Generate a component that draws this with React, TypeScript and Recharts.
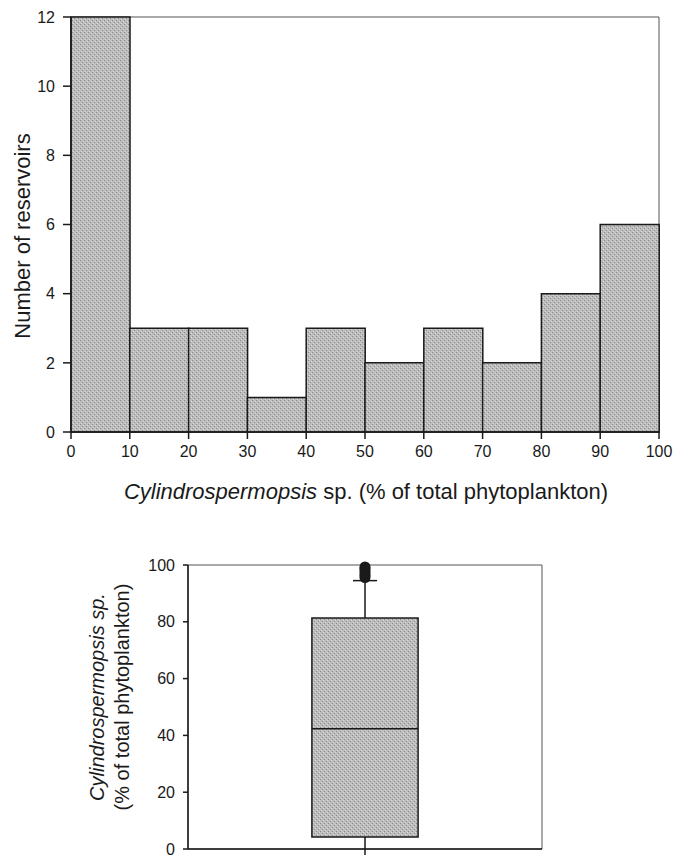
import React from 'react'
import {
  ComposedChart,
  Bar,
  XAxis,
  YAxis,
  Scatter,
  ReferenceArea,
  ReferenceLine,
} from 'recharts'

// histogram: % Cylindrospermopsis per reservoir, 10% bins
const binStarts = [0, 10, 20, 30, 40, 50, 60, 70, 80, 90]
const binWidth = 10
const counts = [12, 3, 3, 1, 3, 2, 3, 2, 4, 6]
const histXTicks = [0, 10, 20, 30, 40, 50, 60, 70, 80, 90, 100]
const histYTicks = [0, 2, 4, 6, 8, 10, 12]

// box plot summary
const boxLow = 0
const boxQ1 = 4.2
const boxMedian = 42.3
const boxQ3 = 81.3
const boxHigh = 94.5
const outliers = [95.6, 96.4, 97.2, 98.0, 98.8, 99.3]
const boxYTicks = [0, 20, 40, 60, 80, 100]

const histData = binStarts.map((start, i) => ({ mid: start + binWidth / 2, count: counts[i] }))
const outlierData = outliers.map((y) => ({ x: 0.5, y }))

const FONT = '"Liberation Sans", Arial, Helvetica, sans-serif'
const INK = '#1a1a1a'
const tickStyle = { fontSize: 16, fill: INK, fontFamily: FONT }

function Hatch({ id }: { id: string }) {
  return (
    <defs>
      <pattern id={id} width="4" height="4" patternUnits="userSpaceOnUse">
        <rect width="4" height="4" fill="#bdbdbd" />
        <rect x="0" y="0" width="1" height="1" fill="#8a8a8a" />
        <rect x="2" y="2" width="1" height="1" fill="#8a8a8a" />
        <rect x="1" y="3" width="1" height="1" fill="#dadada" />
        <rect x="3" y="1" width="1" height="1" fill="#dadada" />
      </pattern>
    </defs>
  )
}

const Dot = (props: any) => <circle cx={props.cx} cy={props.cy} r={5.5} fill={INK} />

export default function App() {
  const boxHalf = 0.15
  const capHalf = 0.034

  return (
    <div style={{ position: 'absolute', left: 0, top: 0, width: 674, height: 855, background: '#fff', fontFamily: FONT, color: INK }}>
      <ComposedChart
        width={674}
        height={470}
        data={histData}
        margin={{ top: 17, right: 15, left: 0, bottom: 8 }}
        barCategoryGap={0}
        barGap={0}
        style={{ position: 'absolute', left: 0, top: 0 }}
      >
        <Hatch id="histFill" />
        <XAxis
          dataKey="mid"
          type="number"
          domain={[0, 100]}
          ticks={histXTicks}
          height={30}
          tick={tickStyle}
          tickSize={7}
          tickMargin={7}
          axisLine={{ stroke: INK, strokeWidth: 1.5 }}
          tickLine={{ stroke: INK, strokeWidth: 1.5 }}
          interval={0}
        />
        <YAxis
          type="number"
          domain={[0, 12]}
          ticks={histYTicks}
          width={71}
          tick={tickStyle}
          tickSize={8}
          tickMargin={8}
          axisLine={{ stroke: INK, strokeWidth: 1.5 }}
          tickLine={{ stroke: INK, strokeWidth: 1.5 }}
          interval={0}
        />
        <ReferenceArea x1={0} x2={100} y1={0} y2={12} fill="none" stroke="#555" strokeWidth={1} />
        <Bar dataKey="count" fill="url(#histFill)" stroke={INK} strokeWidth={1.5} isAnimationActive={false} />
      </ComposedChart>

      <div
        style={{
          position: 'absolute',
          left: 23,
          top: 236,
          transform: 'translate(-50%, -50%) rotate(-90deg)',
          whiteSpace: 'nowrap',
          fontSize: 22,
        }}
      >
        Number of reservoirs
      </div>
      <div
        style={{
          position: 'absolute',
          left: 366,
          top: 492,
          transform: 'translate(-50%, -50%)',
          whiteSpace: 'nowrap',
          fontSize: 22,
        }}
      >
        <i>Cylindrospermopsis</i> sp. (% of total phytoplankton)
      </div>

      <ComposedChart
        width={674}
        height={340}
        data={outlierData}
        margin={{ top: 50, right: 132, left: 0, bottom: 0 }}
        style={{ position: 'absolute', left: 0, top: 515 }}
      >
        <Hatch id="boxFill" />
        <XAxis
          type="number"
          dataKey="x"
          domain={[0, 1]}
          ticks={[0.5]}
          height={6}
          tickFormatter={() => ''}
          tickSize={6}
          axisLine={{ stroke: INK, strokeWidth: 1.5 }}
          tickLine={{ stroke: INK, strokeWidth: 1.5 }}
        />
        <YAxis
          type="number"
          dataKey="y"
          domain={[0, 100]}
          ticks={boxYTicks}
          width={188}
          tick={tickStyle}
          tickSize={5}
          tickMargin={8}
          axisLine={{ stroke: INK, strokeWidth: 1.5 }}
          tickLine={{ stroke: INK, strokeWidth: 1.5 }}
          interval={0}
        />
        <ReferenceArea x1={0} x2={1} y1={0} y2={100} fill="none" stroke="#555" strokeWidth={1} />
        <ReferenceLine segment={[{ x: 0.5, y: boxLow }, { x: 0.5, y: boxQ1 }]} stroke={INK} strokeWidth={1.5} />
        <ReferenceLine segment={[{ x: 0.5, y: boxQ3 }, { x: 0.5, y: boxHigh }]} stroke={INK} strokeWidth={1.5} />
        <ReferenceLine
          segment={[{ x: 0.5 - capHalf, y: boxHigh }, { x: 0.5 + capHalf, y: boxHigh }]}
          stroke={INK}
          strokeWidth={1.5}
        />
        <ReferenceArea
          x1={0.5 - boxHalf}
          x2={0.5 + boxHalf}
          y1={boxQ1}
          y2={boxQ3}
          fill="url(#boxFill)"
          fillOpacity={1}
          stroke={INK}
          strokeWidth={1.5}
        />
        <ReferenceLine
          segment={[{ x: 0.5 - boxHalf, y: boxMedian }, { x: 0.5 + boxHalf, y: boxMedian }]}
          stroke={INK}
          strokeWidth={1.5}
        />
        <Scatter dataKey="y" shape={Dot} isAnimationActive={false} />
      </ComposedChart>

      <div
        style={{
          position: 'absolute',
          left: 110,
          top: 697,
          transform: 'translate(-50%, -50%) rotate(-90deg)',
          whiteSpace: 'nowrap',
          fontSize: 20,
          textAlign: 'center',
          lineHeight: '25px',
        }}
      >
        <i>Cylindrospermopsis sp.</i>
        <br />
        (% of total phytoplankton)
      </div>
    </div>
  )
}
